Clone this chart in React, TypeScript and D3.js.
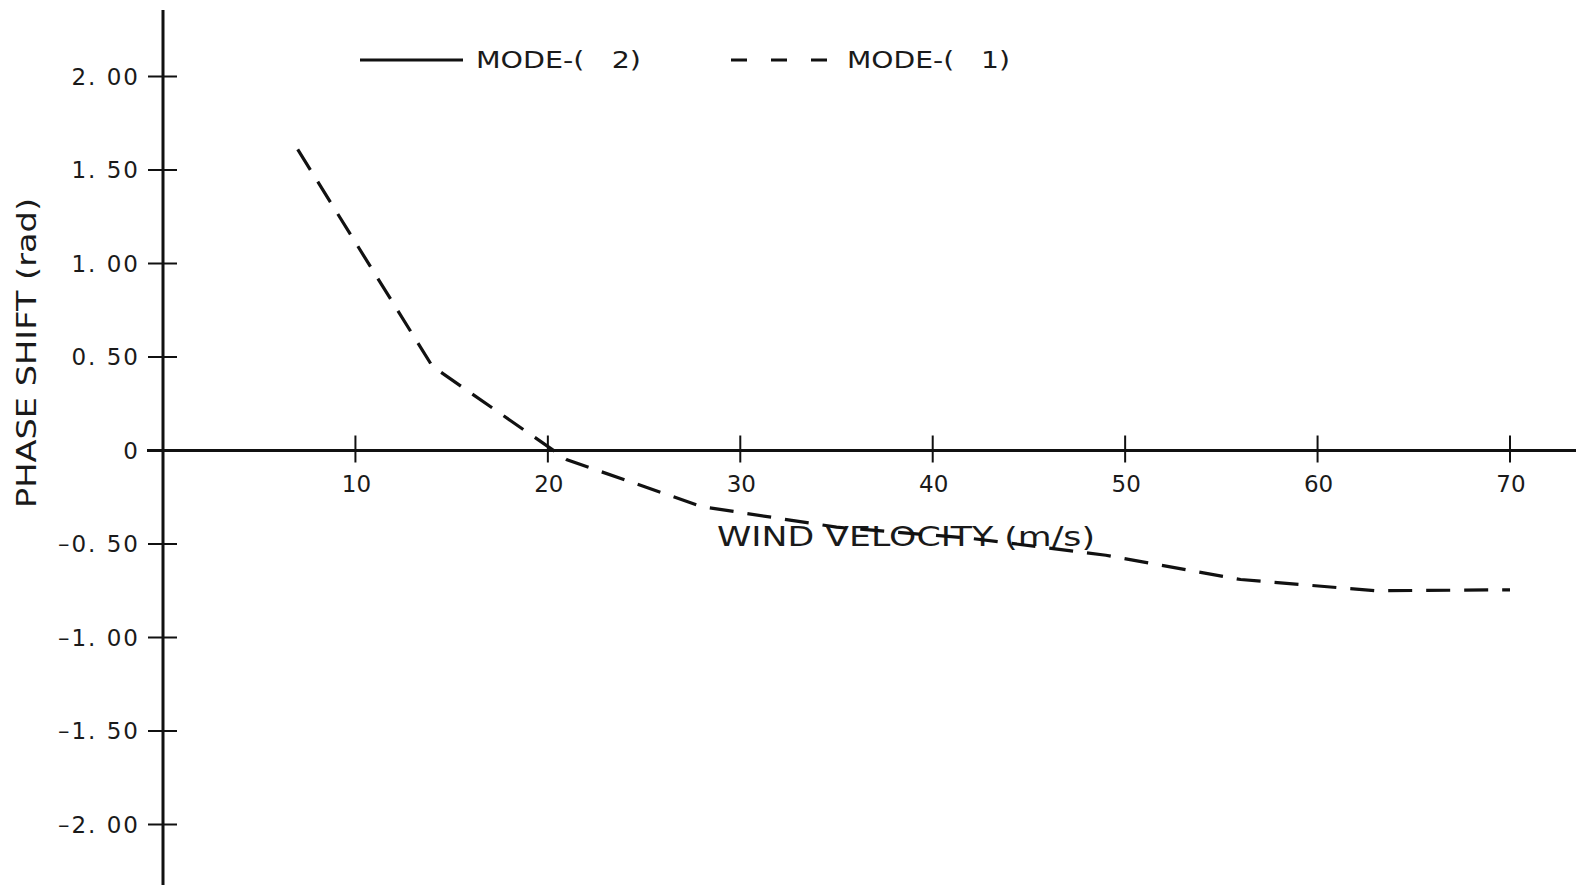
import React from "react";
import * as d3 from "d3";

const windVelocity = [7, 14, 21, 28, 35, 42, 49, 56, 63, 70];
const mode1Phase = [1.61, 0.45, -0.05, -0.3, -0.41, -0.47, -0.56, -0.69, -0.75, -0.745];
const xTicks = [10, 20, 30, 40, 50, 60, 70];
const yTicks = [2, 1.5, 1, 0.5, 0, -0.5, -1, -1.5, -2];
const yTickLabels = ["2. 00", "1. 50", "1. 00", "0. 50", "0", "\u20130. 50", "\u20131. 00", "\u20131. 50", "\u20132. 00"];
const legendLabels = ["MODE-(   2)", "MODE-(   1)"];
const xTitle = "WIND VELOCITY (m/s)";
const yTitle = "PHASE SHIFT (rad)";

const W = 1576;
const H = 885;

export default function App() {
  const x = d3.scaleLinear().domain([0, 70]).range([163, 1510]);
  const y = d3.scaleLinear().domain([0, 2]).range([450.5, 76.5]);
  const pts = windVelocity.map((v, i) => [v, mode1Phase[i]] as [number, number]);
  const line = d3
    .line<[number, number]>()
    .x((d) => x(d[0]))
    .y((d) => y(d[1]));
  const font = "'DejaVu Sans', sans-serif";
  const x0 = x(0);
  const y0 = y(0);
  return (
    <svg
      width={W}
      height={H}
      style={{ position: "fixed", left: 0, top: 0, background: "#fff" }}
    >
      <rect x={0} y={0} width={W} height={H} fill="#fff" />
      {/* axes */}
      <line x1={x0} y1={10} x2={x0} y2={H} stroke="#111" strokeWidth={3} />
      <line x1={147} y1={y0} x2={W} y2={y0} stroke="#111" strokeWidth={3} />
      {yTicks.map((t, i) => (
        <g key={"y" + i}>
          {t !== 0 && (
            <line x1={x0 - 15} x2={x0 + 14} y1={y(t)} y2={y(t)} stroke="#111" strokeWidth={2} />
          )}
          <text
            x={140}
            y={y(t)}
            textAnchor="end"
            dominantBaseline="central"
            fontFamily={font}
            fontSize={23}
            letterSpacing={2}
            fill="#1a1a1a"
            style={{ whiteSpace: "pre" }}
          >
            {yTickLabels[i]}
          </text>
        </g>
      ))}
      {xTicks.map((t) => (
        <g key={"x" + t}>
          <line x1={x(t)} x2={x(t)} y1={y0 - 15} y2={y0 + 12} stroke="#111" strokeWidth={2} />
          <text
            x={x(t) + 1}
            y={484}
            textAnchor="middle"
            dominantBaseline="central"
            fontFamily={font}
            fontSize={23}
            fill="#1a1a1a"
          >
            {t}
          </text>
        </g>
      ))}
      {/* titles */}
      <text
        x={717}
        y={537}
        dominantBaseline="central"
        fontFamily={font}
        fontSize={26}
        textLength={378}
        lengthAdjust="spacingAndGlyphs"
        fill="#1a1a1a"
      >
        {xTitle}
      </text>
      <text
        transform={`translate(27,353) rotate(-90)`}
        textAnchor="middle"
        dominantBaseline="central"
        fontFamily={font}
        fontSize={26}
        textLength={310}
        lengthAdjust="spacingAndGlyphs"
        fill="#1a1a1a"
      >
        {yTitle}
      </text>
      {/* data */}
      <path
        d={line(pts) || ""}
        fill="none"
        stroke="#111"
        strokeWidth={3.2}
        strokeDasharray="24 14"
      />
      {/* legend */}
      <line x1={360} x2={463} y1={60} y2={60} stroke="#111" strokeWidth={3.2} />
      <text
        x={476}
        y={60}
        dominantBaseline="central"
        fontFamily={font}
        fontSize={23}
        textLength={165}
        lengthAdjust="spacingAndGlyphs"
        fill="#1a1a1a"
        style={{ whiteSpace: "pre" }}
      >
        {legendLabels[0]}
      </text>
      <line
        x1={731}
        x2={833}
        y1={60}
        y2={60}
        stroke="#111"
        strokeWidth={3.2}
        strokeDasharray="16 24"
      />
      <text
        x={847}
        y={60}
        dominantBaseline="central"
        fontFamily={font}
        fontSize={23}
        textLength={163}
        lengthAdjust="spacingAndGlyphs"
        fill="#1a1a1a"
        style={{ whiteSpace: "pre" }}
      >
        {legendLabels[1]}
      </text>
    </svg>
  );
}
